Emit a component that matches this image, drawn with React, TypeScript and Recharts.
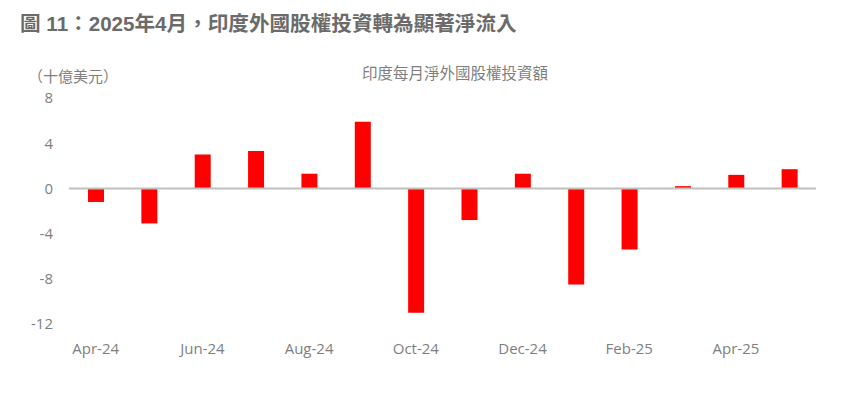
import React from "react";
import { BarChart, Bar, XAxis, YAxis, ReferenceLine } from "recharts";

const months = ["Apr-24", "May-24", "Jun-24", "Jul-24", "Aug-24", "Sep-24", "Oct-24", "Nov-24", "Dec-24", "Jan-25", "Feb-25", "Mar-25", "Apr-25", "May-25"];
const flows = [-1.2, -3.1, 3.0, 3.3, 1.3, 5.9, -11.0, -2.8, 1.3, -8.5, -5.4, 0.2, 1.2, 1.7];
const yTicks = [-12, -8, -4, 0, 4, 8];

const title = "圖 11：2025年4月，印度外國股權投資轉為顯著淨流入";
const unitLabel = "（十億美元）";
const chartTitle = "印度每月淨外國股權投資額";

const data = months.map((m, i) => ({ month: m, value: flows[i] }));

const grey = "#7f7f7f";
const tickFont = { fontFamily: "'Open Sans', 'Noto Sans', sans-serif", fontSize: 15, fill: grey };

export default function App() {
  return (
    <div style={{ position: "absolute", left: 0, top: 0, width: 846, height: 399, background: "#fff", overflow: "hidden" }}>
      <div style={{ position: "absolute", left: 20, top: 10, fontFamily: "'Liberation Sans Narrow', 'Liberation Sans', 'Noto Sans CJK TC', sans-serif", fontWeight: "bold", fontSize: 20.6, color: "#6b6b6b", whiteSpace: "nowrap", lineHeight: "28px" }}>
        {title}
      </div>
      <div style={{ position: "absolute", left: 28, top: 65, fontFamily: "'Noto Sans CJK TC', sans-serif", fontSize: 15, color: grey, whiteSpace: "nowrap", lineHeight: "22px" }}>
        {unitLabel}
      </div>
      <div style={{ position: "absolute", left: 255, width: 400, textAlign: "center", top: 61, fontFamily: "'Noto Sans CJK TC', sans-serif", fontSize: 15.5, color: grey, whiteSpace: "nowrap", lineHeight: "22px" }}>
        {chartTitle}
      </div>
      <div style={{ position: "absolute", left: 0, top: 0 }}>
        <BarChart width={846} height={399} data={data} margin={{ top: 98, right: 30, bottom: 45, left: 0 }}>
          <XAxis
            dataKey="month"
            interval={1}
            axisLine={false}
            tickLine={false}
            tickSize={0}
            tickMargin={19}
            height={30}
            tick={tickFont}
          />
          <YAxis
            domain={[-12, 8]}
            ticks={yTicks}
            axisLine={false}
            tickLine={false}
            tickSize={0}
            tickMargin={16}
            width={69}
            tick={tickFont}
            allowDataOverflow
          />
          <ReferenceLine y={0} stroke="#bfbfbf" strokeWidth={2} />
          <Bar dataKey="value" fill="#ff0000" barSize={16} isAnimationActive={false} />
        </BarChart>
      </div>
    </div>
  );
}
